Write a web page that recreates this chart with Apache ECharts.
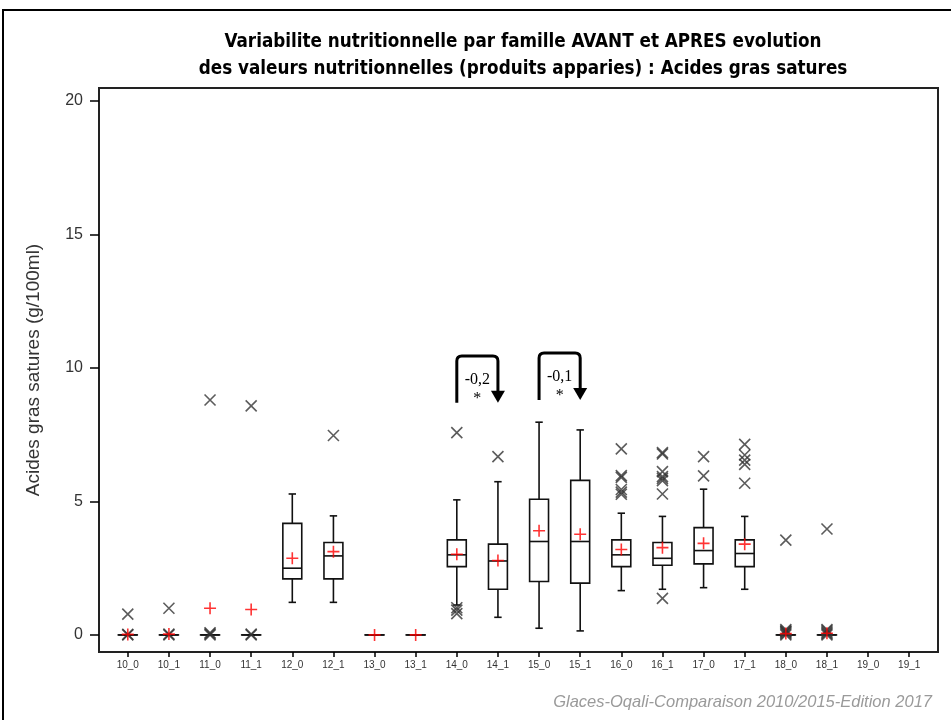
<!DOCTYPE html>
<html><head><meta charset="utf-8">
<script src="https://cdn.jsdelivr.net/npm/echarts@6/dist/echarts.min.js"></script>
<style>html,body{margin:0;padding:0;background:#fff}#c{width:951px;height:720px}</style>
</head><body><div id="c"></div>
<script>
const categories = ['10_0','10_1','11_0','11_1','12_0','12_1','13_0','13_1','14_0','14_1','15_0','15_1','16_0','16_1','17_0','17_1','18_0','18_1','19_0','19_1'];
const whiskerLow  = [0,0,0,0,1.22,1.22,0,0,1.12,0.66,0.25,0.15,1.66,1.71,1.77,1.71,0,0,null,null];
const q1          = [0,0,0,0,2.10,2.10,0,0,2.56,1.71,2.00,1.94,2.56,2.61,2.66,2.56,0,0,null,null];
const median      = [0,0,0,0,2.50,2.96,0,0,3.00,2.77,3.50,3.50,3.00,2.87,3.16,3.05,0,0,null,null];
const q3          = [0,0,0,0,4.18,3.46,0,0,3.56,3.40,5.08,5.79,3.56,3.46,4.02,3.56,0,0,null,null];
const whiskerHigh = [0,0,0,0,5.28,4.46,0,0,5.06,5.74,7.97,7.68,4.56,4.44,5.46,4.44,0,0,null,null];
const means       = [0.02,0.03,1.0,0.95,2.87,3.12,0,0,3.02,2.79,3.90,3.77,3.20,3.27,3.43,3.40,0.05,0.06,null,null];
const outliers = [
  [0.78,0,0.02],
  [1.0,0,0.03],
  [8.8,0,0.04,0.08],
  [8.58,0,0.03],
  [],
  [7.47],
  [],
  [],
  [7.58,1.02,0.93,0.8],
  [6.68],
  [],
  [],
  [6.97,5.97,5.9,5.45,5.35,5.27],
  [6.83,6.78,6.12,5.93,5.86,5.78,5.28,1.37],
  [6.68,5.96],
  [7.14,6.74,6.55,6.39,5.68],
  [3.55,0,0.05,0.1,0.15,0.2,0.12],
  [3.97,0,0.05,0.1,0.15,0.2],
  [],
  []
];
const yTicks = [0,5,10,15,20];
const annotFrom  = ['14_0','15_0'];
const annotTo    = ['14_1','15_1'];
const annotTop   = [10.45,10.56];
const annotBase  = [8.7,8.8];
const annotLabel = ['-0,2','-0,1'];
const annotStar  = ['*','*'];

const titleText = 'Variabilite nutritionnelle par famille AVANT et APRES evolution\ndes valeurs nutritionnelles (produits apparies) : Acides gras satures';
const footerText = 'Glaces-Oqali-Comparaison 2010/2015-Edition 2017';
const yName = 'Acides gras satures (g/100ml)';

const xIdx = categories.map((c,i)=>i);
const boxData = [];
categories.forEach((c,i)=>{ if (whiskerLow[i]!=null) boxData.push([i, whiskerLow[i], q1[i], median[i], q3[i], whiskerHigh[i]]); });
const outData = [];
outliers.forEach((arr,i)=>arr.forEach(v=>outData.push([i,v])));
const meanData = [];
means.forEach((v,i)=>{ if (v!=null) meanData.push([i,v]); });
const annotData = annotFrom.map((f,k)=>[categories.indexOf(f), categories.indexOf(annotTo[k]), annotTop[k], annotBase[k]]);

function renderBox(params, api){
  const i = api.value(0);
  const lo = api.coord([i, api.value(1)]), b = api.coord([i, api.value(2)]), m = api.coord([i, api.value(3)]),
        t = api.coord([i, api.value(4)]), hi = api.coord([i, api.value(5)]);
  const bw = api.size([1,0])[0];
  const hw = bw*0.23, cw = bw*0.09;
  const x = lo[0];
  const st = {stroke:'#111', lineWidth:1.6, fill:null};
  return {type:'group', children:[
    {type:'line', shape:{x1:x,y1:hi[1],x2:x,y2:t[1]}, style:st},
    {type:'line', shape:{x1:x,y1:b[1],x2:x,y2:lo[1]}, style:st},
    {type:'line', shape:{x1:x-cw,y1:hi[1],x2:x+cw,y2:hi[1]}, style:st},
    {type:'line', shape:{x1:x-cw,y1:lo[1],x2:x+cw,y2:lo[1]}, style:st},
    {type:'rect', shape:{x:x-hw,y:t[1],width:2*hw,height:Math.max(b[1]-t[1],0.01)}, style:{stroke:'#111',lineWidth:1.6,fill:'#fff'}},
    {type:'line', shape:{x1:x-hw,y1:m[1],x2:x+hw,y2:m[1]}, style:st}
  ]};
}

function renderAnnot(params, api){
  const k = params.dataIndex;
  const a = api.coord([api.value(0), api.value(3)]);
  const top = api.coord([api.value(0), api.value(2)])[1];
  const b = api.coord([api.value(1), api.value(3)]);
  const x1 = a[0], x2 = b[0], yb = a[1], r = 5, ah = 12, aw = 7;
  const d = 'M'+x1+' '+yb+' L'+x1+' '+(top+r)+' Q'+x1+' '+top+' '+(x1+r)+' '+top+
            ' L'+(x2-r)+' '+top+' Q'+x2+' '+top+' '+x2+' '+(top+r)+' L'+x2+' '+(yb-ah+1);
  const cx = (x1+x2)/2;
  return {type:'group', children:[
    {type:'path', shape:{pathData:d}, style:{stroke:'#000', lineWidth:3, fill:null}},
    {type:'polygon', shape:{points:[[x2-aw,yb-ah],[x2+aw,yb-ah],[x2,yb]]}, style:{fill:'#000'}},
    {type:'text', style:{text:annotLabel[k], x:cx, y:top+24, align:'center', verticalAlign:'middle', font:'16px "Liberation Serif"', fill:'#000'}},
    {type:'text', style:{text:annotStar[k], x:cx, y:top+43, align:'center', verticalAlign:'middle', font:'16px "Liberation Serif"', fill:'#000'}}
  ]};
}

const chart = echarts.init(document.getElementById('c'), null, {renderer:'canvas'});
chart.setOption({
  animation:false,
  backgroundColor:'#fff',
  title:[
    {text:titleText, left:518, top:24, textAlign:'center',
     textStyle:{fontFamily:'"Liberation Sans Narrow","DejaVu Sans Condensed",sans-serif', fontWeight:'bold', fontSize:18.7, lineHeight:27, color:'#000'}},
    {text:footerText, right:14, top:689,
     textStyle:{fontFamily:'"Liberation Sans",Arial,sans-serif', fontStyle:'italic', fontWeight:'normal', fontSize:16.5, color:'#9a9a9a'}}
  ],
  graphic:[
    {type:'rect', shape:{x:3,y:10,width:1000,height:1000}, style:{fill:null, stroke:'#000', lineWidth:2}, silent:true}
  ],
  grid:{left:99, right:13, top:88, bottom:68, show:true, borderColor:'#222', borderWidth:2, backgroundColor:'transparent'},
  xAxis:{type:'value', min:-0.7, max:19.7,
     axisLine:{show:false, onZero:false},
     axisTick:{show:true, customValues:xIdx, length:5, lineStyle:{color:'#000', width:1.5}},
     axisLabel:{customValues:xIdx, formatter:(v)=>categories[Math.round(v)], fontSize:10, color:'#333', margin:8, fontFamily:'"Liberation Sans",Arial,sans-serif'},
     splitLine:{show:false}},
  yAxis:{type:'value', min:-0.64, max:20.49,
     name:yName, nameLocation:'middle', nameGap:56, nameRotate:90,
     nameTextStyle:{fontSize:19, color:'#333', fontFamily:'"Liberation Sans",Arial,sans-serif'},
     axisLine:{show:false, onZero:false},
     axisTick:{show:true, customValues:yTicks, length:9, lineStyle:{color:'#000', width:1.5}},
     axisLabel:{customValues:yTicks, fontSize:16, color:'#333', margin:16, fontFamily:'"Liberation Sans",Arial,sans-serif'},
     splitLine:{show:false}},
  series:[
    {type:'custom', data:boxData, renderItem:renderBox, encode:{x:0, y:[1,2,3,4,5]}, silent:true, z:2},
    {type:'scatter', data:outData, symbol:'path://M0,0L10,10M10,0L0,10', symbolSize:11,
     itemStyle:{color:'transparent', borderColor:'#333', borderWidth:1.6}, silent:true, z:3},
    {type:'scatter', data:meanData, symbol:'path://M5,0L5,10M0,5L10,5', symbolSize:12,
     itemStyle:{color:'transparent', borderColor:'#ff0000', borderWidth:1.6}, silent:true, z:4},
    {type:'custom', data:annotData, renderItem:renderAnnot, encode:{x:[0,1], y:[2,3]}, silent:true, z:5, clip:false}
  ]
});
</script></body></html>
